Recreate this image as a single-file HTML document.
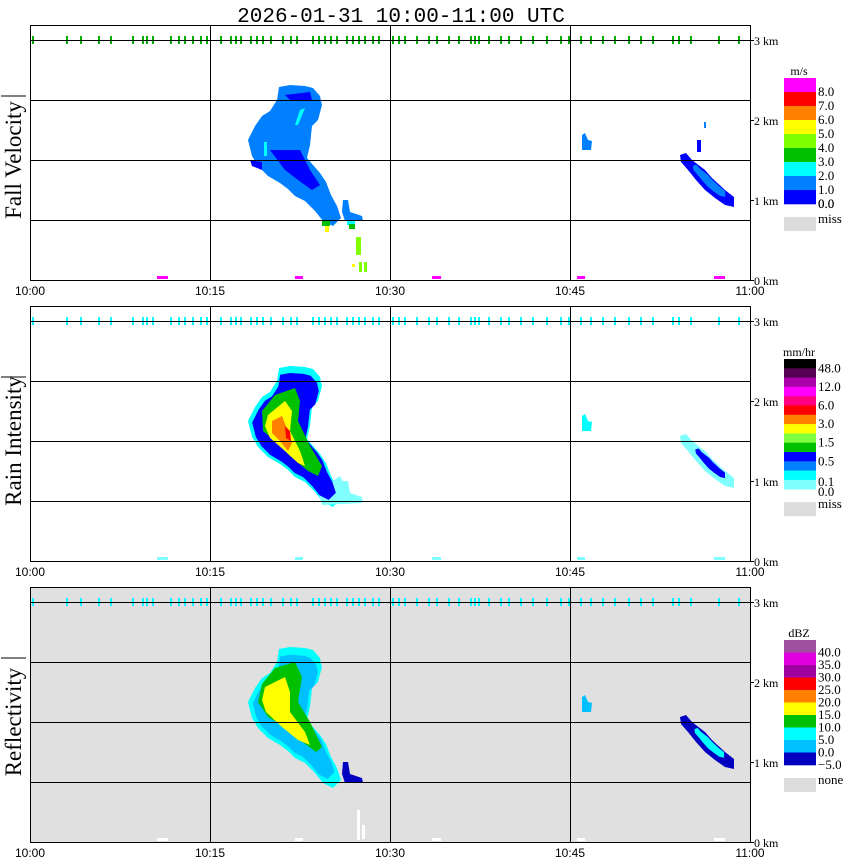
<!DOCTYPE html>
<html><head><meta charset="utf-8"><style>
html,body{margin:0;padding:0;background:#fff;width:850px;height:868px;overflow:hidden}
svg text{font-family:"Liberation Serif",serif}
</style></head><body>
<svg id="s" width="850" height="868" xmlns="http://www.w3.org/2000/svg">
<text x="401" y="22" text-anchor="middle" style="font-family:'Liberation Mono',monospace;font-size:21px">2026-01-31  10:00-11:00 UTC</text>
</svg>
<script>
var S=document.getElementById('s'),h='';
function P(pts,dy,c){return '<polygon fill="'+c+'" points="'+pts.map(function(p){return p[0]+','+(p[1]+dy)}).join(' ')+'"/>';}
var outer=[[279,87],[290,85],[305,86],[313,88],[320,96],[322,105],[318,120],[312,126],[310,145],[307,158],[313,165],[320,173],[326,182],[331,195],[337,206],[341,218],[333,226],[323,221],[315,211],[305,201],[295,196],[288,189],[280,183],[268,176],[258,166],[252,156],[248,140],[255,126],[262,116],[270,111],[277,100]];
var tail=[[343,200],[348,200],[350,212],[362,216],[363,221],[345,221],[342,212]];
var right=[[680,155],[686,153],[692,160],[705,170],[712,178],[725,190],[734,197],[734,207],[725,205],[715,198],[705,190],[696,180],[688,170],[681,162]];
var blob=[[582,135],[585,133],[588,140],[592,141],[591,150],[582,150]];
function inset(pts,f,cx,cy){return pts.map(function(p){return [cx+(p[0]-cx)*f,cy+(p[1]-cy)*f]});}
var ticks=[32,66,80,98,110,132,142,146,152,170,178,184,192,200,206,220,230,235,240,250,256,262,270,282,290,296,312,318,324,330,336,346,352,358,364,372,378,392,398,404,416,428,436,448,458,470,474,478,488,500,508,520,532,546,560,568,580,590,602,614,628,640,652,672,678,690,718,738];
var legs=[
 {t:'m/s',c:['#ff00ff','#ff0000','#ff8000','#ffff00','#80ff00','#00c000','#00ffff','#0080ff','#0000ff'],l:['8.0','7.0','6.0','5.0','4.0','3.0','2.0','1.0','0.0'],y0:78,hh:14,miss:'miss'},
 {t:'mm/hr',c:['#000000','#550055','#aa00aa','#ff00ff','#ff0080','#ff0000','#ff8000','#ffff00','#80ff40','#00c000','#0000ff','#0080ff','#00ffff','#80ffff'],l:['48.0','','12.0','','6.0','','3.0','','1.5','','0.5','','',''],y0:359,hh:9.3,miss:'miss'},
 {t:'dBZ',c:['#a050a0','#e000e0','#a000a0','#ff0000','#ff8000','#ffff00','#00c000','#00ffff','#00c0ff','#0000c0'],l:['40.0','35.0','30.0','25.0','20.0','15.0','10.0','5.0','0.0','\u22125.0'],y0:640,hh:12.5,miss:'none'}];
var names=['Fall Velocity','Rain Intensity','Reflectivity'];
[0,281,562].forEach(function(dy,k){
 var top=25+dy,bot=280+dy;
 if(k==2)h+='<rect x="30" y="'+top+'" width="720" height="'+(bot-top)+'" fill="#e0e0e0"/>';
 if(k==0){
  h+=P(outer,dy,'#0080ff')+P(tail,dy,'#0080ff');
  h+=P([[270,150],[300,150],[310,170],[320,185],[312,190],[298,180],[285,170]],dy,'#0000ff');
  h+=P([[285,95],[310,92],[312,100],[290,100]],dy,'#0000ff');
  h+=P([[250,160],[262,162],[262,170],[252,166]],dy,'#0000ff');
  h+=P([[300,110],[305,108],[298,125],[295,125]],dy,'#00ffff');
  h+='<rect x="264" y="142" width="3" height="14" fill="#00ffff"/>';
  h+='<rect x="322" y="220" width="8" height="6" fill="#00c000"/><rect x="325" y="226" width="4" height="6" fill="#ffff00"/>';
  h+='<rect x="347" y="220" width="8" height="5" fill="#00ffff"/><rect x="349" y="224" width="6" height="5" fill="#00c000"/>';
  h+='<rect x="356" y="237" width="5" height="18" fill="#80ff00"/><rect x="359" y="262" width="3" height="10" fill="#80ff00"/><rect x="352" y="264" width="3" height="3" fill="#ffff00"/><rect x="364" y="262" width="3" height="10" fill="#80ff00"/>';
  h+=P(right,dy,'#0000ff')+P(inset(right,0.6,712,182),dy,'#0080ff')+P(blob,dy,'#0080ff');
  h+='<rect x="697" y="140" width="4" height="12" fill="#0000ff"/><rect x="704" y="122" width="2" height="6" fill="#0080ff"/>';
 }else if(k==1){
  h+=P(outer,dy,'#00ffff')+P(tail,dy,'#80ffff');
  h+=P([[340,195],[350,215],[362,218],[362,222],[322,224],[318,210]],dy,'#80ffff');
  h+=P(inset(outer,0.9,290,155),dy,'#0000ff');
  h+=P([[275,114],[295,107],[300,120],[298,140],[310,165],[322,185],[318,195],[308,190],[290,175],[275,160],[263,150],[262,130]],dy,'#00c000');
  h+=P([[268,134],[285,120],[292,130],[290,150],[300,170],[305,185],[298,182],[285,170],[270,157],[265,145]],dy,'#ffff00');
  h+=P([[272,140],[282,135],[287,148],[292,162],[288,170],[280,160],[272,152]],dy,'#ff8000');
  h+=P([[285,145],[290,150],[291,160],[286,157]],dy,'#ff0000');
  h+=P(right,dy,'#80ffff')+P(inset(right,0.55,714,185),dy,'#0000ff')+P(blob,dy,'#00ffff');
 }else{
  h+=P(outer,dy,'#00ffff')+P(tail,dy,'#0000c0');
  h+=P(inset(outer,0.88,288,150),dy,'#00c0ff');
  h+=P([[275,106],[295,100],[302,115],[298,140],[310,160],[322,185],[316,190],[300,178],[285,165],[268,155],[258,140],[262,122]],dy,'#00c000');
  h+=P([[265,125],[285,115],[290,130],[290,150],[305,170],[310,183],[298,178],[282,165],[266,150],[262,138]],dy,'#ffff00');
  h+='<rect x="357" y="810" width="3" height="30" fill="#ffffff"/><rect x="362" y="825" width="3" height="14" fill="#ffffff"/>';
  h+=P(right,dy,'#0000c0')+P(inset(right,0.55,712,182),dy,'#00ffff')+P(blob,dy,'#00c0ff');
 }
 var mc=['#ff00ff','#80ffff','#ffffff'][k];
 [[157,11],[295,8],[432,9],[577,8],[714,11]].forEach(function(m){h+='<rect x="'+m[0]+'" y="'+(bot-4)+'" width="'+m[1]+'" height="3" fill="'+mc+'"/>';});
 var tc=['#00b000','#00ffff','#00ffff'][k];
 ticks.forEach(function(x){h+='<rect x="'+x+'" y="'+(36+dy)+'" width="2" height="8" fill="'+tc+'"/>';});
 [40,100,160,220].forEach(function(y){h+='<line x1="30" x2="750" y1="'+(y+dy+0.5)+'" y2="'+(y+dy+0.5)+'" stroke="#000" stroke-width="1"/>';});
 [210,390,570].forEach(function(x){h+='<line y1="'+top+'" y2="'+bot+'" x1="'+(x+.5)+'" x2="'+(x+.5)+'" stroke="#000"/>';});
 h+='<rect x="30.5" y="'+(top+.5)+'" width="720" height="'+(bot-top)+'" fill="none" stroke="#000"/>';
 [[40,'3 km'],[120,'2 km'],[200,'1 km'],[280,'0 km']].forEach(function(a){
  h+='<line x1="750" x2="754" y1="'+(a[0]+dy+.5)+'" y2="'+(a[0]+dy+.5)+'" stroke="#000"/>';
  h+='<text x="754" y="'+(a[0]+dy+5)+'" font-size="12">'+a[1]+'</text>';});
 [[30,'10:00'],[210,'10:15'],[390,'10:30'],[570,'10:45'],[750,'11:00']].forEach(function(a){
  h+='<text x="'+a[0]+'" y="'+(bot+15)+'" font-size="12" text-anchor="middle" style="font-family:Liberation Sans,sans-serif">'+a[1]+'</text>';});
 h+='<text transform="translate(21,'+(160+dy)+') rotate(-90)" text-anchor="middle" font-size="23">'+names[k]+'</text>';
 h+='<line x1="1" x2="26" y1="'+(96+dy)+'" y2="'+(96+dy)+'" stroke="#000" stroke-width="1"/>';
 var L=legs[k];
 h+='<text x="799" y="'+(L.y0-3)+'" font-size="12" text-anchor="middle">'+L.t+'</text>';
 L.c.forEach(function(c,i){var y=L.y0+i*L.hh;h+='<rect x="784" y="'+y+'" width="32" height="'+(L.hh+0.3)+'" fill="'+c+'"/>';
  if(L.l[i])h+='<text x="818" y="'+(y+L.hh+4)+'" font-size="13">'+L.l[i]+'</text>';});
 var ye=L.y0+L.c.length*L.hh;
 if(k==1){h+='<text x="818" y="'+(ye-3)+'" font-size="13">0.1</text><text x="818" y="'+(ye+7)+'" font-size="13">0.0</text>';}
 if(k==0)h+='<text x="818" y="'+(ye+4)+'" font-size="13">0.0</text>';
 h+='<rect x="784" y="'+(ye+13)+'" width="32" height="14" fill="#dcdcdc"/>';
 h+='<text x="818" y="'+(ye+19)+'" font-size="13">'+L.miss+'</text>';
});
S.insertAdjacentHTML('beforeend',h);
</script>
</body></html>
